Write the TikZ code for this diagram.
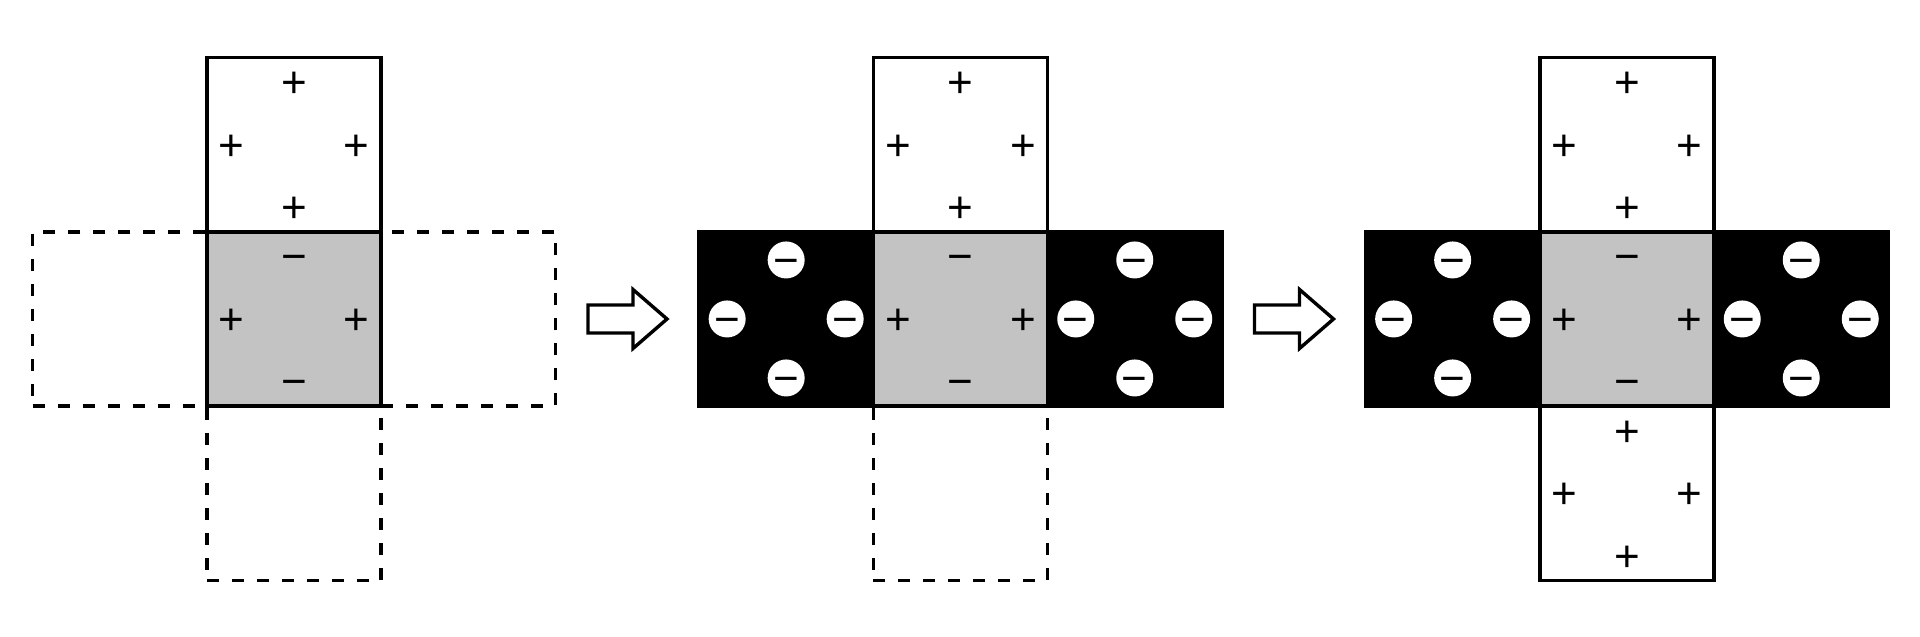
\documentclass[tikz,border=0pt]{standalone}
\usepackage{fontspec}
\newfontfamily\signfamily{Liberation Sans}
\newcommand\signfont{\signfamily\fontsize{44pt}{48pt}\selectfont}
\definecolor{midgray}{RGB}{195,195,195}
\begin{document}
\begin{tikzpicture}[x=1pt,y=-1pt,
  cell/.style={rectangle, minimum width=174.3pt, minimum height=174.3pt, inner sep=0pt, line width=3.4pt},
  face/.style={cell, draw=black, fill=white},
  ghost/.style={cell, draw=black, dash pattern=on 12pt off 13pt},
  midface/.style={cell, draw=black, fill=midgray},
  negface/.style={cell, draw=black, fill=black},
  sign/.style={font=\signfont, inner sep=0pt, text height=31pt, text depth=0pt},
  negc/.style={circle, fill=white, minimum size=37pt, inner sep=0pt, label={[sign]center:−}},
  fatarrow/.style={draw=black, fill=white, line width=3.4pt, line join=miter}
]
\useasboundingbox (0,0) rectangle (1920,637);

% ---------- Panel 1 ----------
\node[ghost] (l1) at (119.65,318.95) {};
\node[ghost] (r1) at (468.25,318.95) {};
\node[ghost] (b1) at (293.95,493.25) {};
\node[face] (t1) at (293.95,144.65) {};
\node[midface] (m1) at (293.95,318.95) {};

% ---------- Panel 2 ----------
\node[ghost] (b2) at (960.45,493.25) {};
\node[face] (t2) at (960.45,144.65) {};
\node[negface] (l2) at (786.15,318.95) {};
\node[negface] (r2) at (1134.75,318.95) {};
\node[midface] (m2) at (960.45,318.95) {};

% ---------- Panel 3 ----------
\node[face] (t3) at (1626.95,144.65) {};
\node[face] (b3) at (1626.95,493.25) {};
\node[negface] (l3) at (1452.65,318.95) {};
\node[negface] (r3) at (1801.25,318.95) {};
\node[midface] (m3) at (1626.95,318.95) {};

% plus faces
\foreach \f in {t1,t2,t3,b3}{
  \node[sign] (\f-n) at ([yshift=62.5pt]\f.center) {+};
  \node[sign] (\f-s) at ([yshift=-62.5pt]\f.center) {+};
  \node[sign] (\f-w) at ([xshift=-62.5pt]\f.center) {+};
  \node[sign] (\f-e) at ([xshift=62.5pt]\f.center) {+};
}
% grey middle faces
\foreach \f in {m1,m2,m3}{
  \node[sign] (\f-n) at ([yshift=62.5pt]\f.center) {−};
  \node[sign] (\f-s) at ([yshift=-62.5pt]\f.center) {−};
  \node[sign] (\f-w) at ([xshift=-62.5pt]\f.center) {+};
  \node[sign] (\f-e) at ([xshift=62.5pt]\f.center) {+};
}
% black faces
\foreach \f in {l2,r2,l3,r3}{
  \node[negc] (\f-n) at ([yshift=59pt]\f.center) {};
  \node[negc] (\f-s) at ([yshift=-59pt]\f.center) {};
  \node[negc] (\f-w) at ([xshift=-59pt]\f.center) {};
  \node[negc] (\f-e) at ([xshift=59pt]\f.center) {};
}

% ---------- block arrows ----------
\foreach \dx in {0,666.5}{
  \draw[fatarrow] (588+\dx,305) -- (633+\dx,305) -- (633+\dx,289.5) -- (667+\dx,319)
    -- (633+\dx,348.5) -- (633+\dx,333) -- (588+\dx,333) -- cycle;
}
\end{tikzpicture}
\end{document}
